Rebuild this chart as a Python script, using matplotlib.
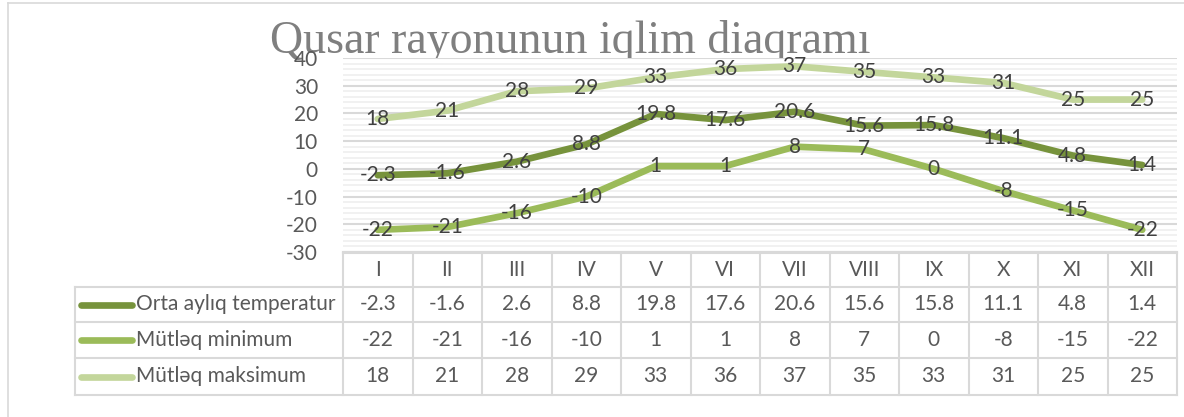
import matplotlib.pyplot as plt
import numpy as np
from matplotlib.ticker import MultipleLocator

months = ["I", "II", "III", "IV", "V", "VI", "VII", "VIII", "IX", "X", "XI", "XII"]
orta = [-2.3, -1.6, 2.6, 8.8, 19.8, 17.6, 20.6, 15.6, 15.8, 11.1, 4.8, 1.4]
minimum = [-22, -21, -16, -10, 1, 1, 8, 7, 0, -8, -15, -22]
maksimum = [18, 21, 28, 29, 33, 36, 37, 35, 33, 31, 25, 25]

series = [
    ("Orta aylıq temperatur", orta, "#77933C"),
    ("Mütləq minimum", minimum, "#9BBB59"),
    ("Mütləq maksimum", maksimum, "#C3D69B"),
]

W, H = 1184, 417
TXT = "#595959"
GRID = "#D9D9D9"
FS = 15
plt.rcParams["font.family"] = ["Lato", "DejaVu Sans"]
plt.rcParams["axes.unicode_minus"] = False

fig = plt.figure(figsize=(W / 100, H / 100), dpi=100)

# plot area in pixel units
px0, px1, py0, py1 = 343, 1177, 58, 252
ax = fig.add_axes([px0 / W, 1 - py1 / H, (px1 - px0) / W, (py1 - py0) / H])
x = np.arange(len(months))
for name, vals, color in series:
    ax.plot(x, vals, color=color, lw=4.8, solid_capstyle="round",
            solid_joinstyle="round", zorder=3)
    for xi, v in zip(x, vals):
        ax.text(xi, v, f"{v:g}", ha="center", va="center", fontsize=FS,
                color="#404040", zorder=4)

ax.set_xlim(-0.5, len(months) - 0.5)
ax.set_ylim(-30, 40)
ax.yaxis.set_major_locator(MultipleLocator(10))
ax.yaxis.set_minor_locator(MultipleLocator(2))
ax.grid(True, which="major", axis="y", color=GRID, lw=1.5)
ax.grid(True, which="minor", axis="y", color="#EFEFEF", lw=1.2)
ax.set_axisbelow(True)
ax.set_xticks([])
ax.tick_params(axis="y", which="both", length=0, labelsize=FS,
               labelcolor=TXT, pad=18)
for side in ["top", "right", "left"]:
    ax.spines[side].set_visible(False)
ax.spines["bottom"].set_color(GRID)
ax.spines["bottom"].set_linewidth(1.5)

# overlay in pixel coordinates for frame and title
ov = fig.add_axes([0, 0, 1, 1], zorder=-1)
ov.set_xlim(0, W)
ov.set_ylim(H, 0)
ov.axis("off")

ov.plot([8, W], [3, 3], color=GRID, lw=1.2)
ov.plot([8, 8], [3, H], color=GRID, lw=1.2)

ov.text(570, 41, "Qusar rayonunun iqlim diaqramı", ha="center", va="center",
        fontsize=33, color="#7F7F7F", family="Liberation Serif")

# data table under the plot
colw = (px1 - px0) / len(months)
rows_y = [253, 287, 322, 358, 395]
lx0 = 75
tab = fig.add_axes([0, 0, 1, 1], zorder=2)
tab.set_xlim(0, W)
tab.set_ylim(H, 0)
tab.axis("off")
lc = dict(color=GRID, lw=1.5)
tab.plot([px0, px1], [rows_y[0], rows_y[0]], **lc)
for ry in rows_y[1:]:
    tab.plot([lx0, px1], [ry, ry], **lc)
tab.plot([lx0, lx0], [rows_y[1], rows_y[-1]], **lc)
for i in range(len(months) + 1):
    cx = px0 + i * colw
    tab.plot([cx, cx], [rows_y[0], rows_y[-1]], **lc)

for i, m in enumerate(months):
    tab.text(px0 + (i + 0.5) * colw, (rows_y[0] + rows_y[1]) / 2, m,
             ha="center", va="center", fontsize=FS, color=TXT)

for r, (name, vals, color) in enumerate(series):
    yc = (rows_y[r + 1] + rows_y[r + 2]) / 2
    tab.plot([81, 132], [yc, yc], color=color, lw=4.8, solid_capstyle="round")
    tab.text(136, yc, name, ha="left", va="center", fontsize=FS, color=TXT)
    for i, v in enumerate(vals):
        tab.text(px0 + (i + 0.5) * colw, yc, f"{v:g}", ha="center",
                 va="center", fontsize=FS, color=TXT)

fig.savefig("out.png", dpi=100)
